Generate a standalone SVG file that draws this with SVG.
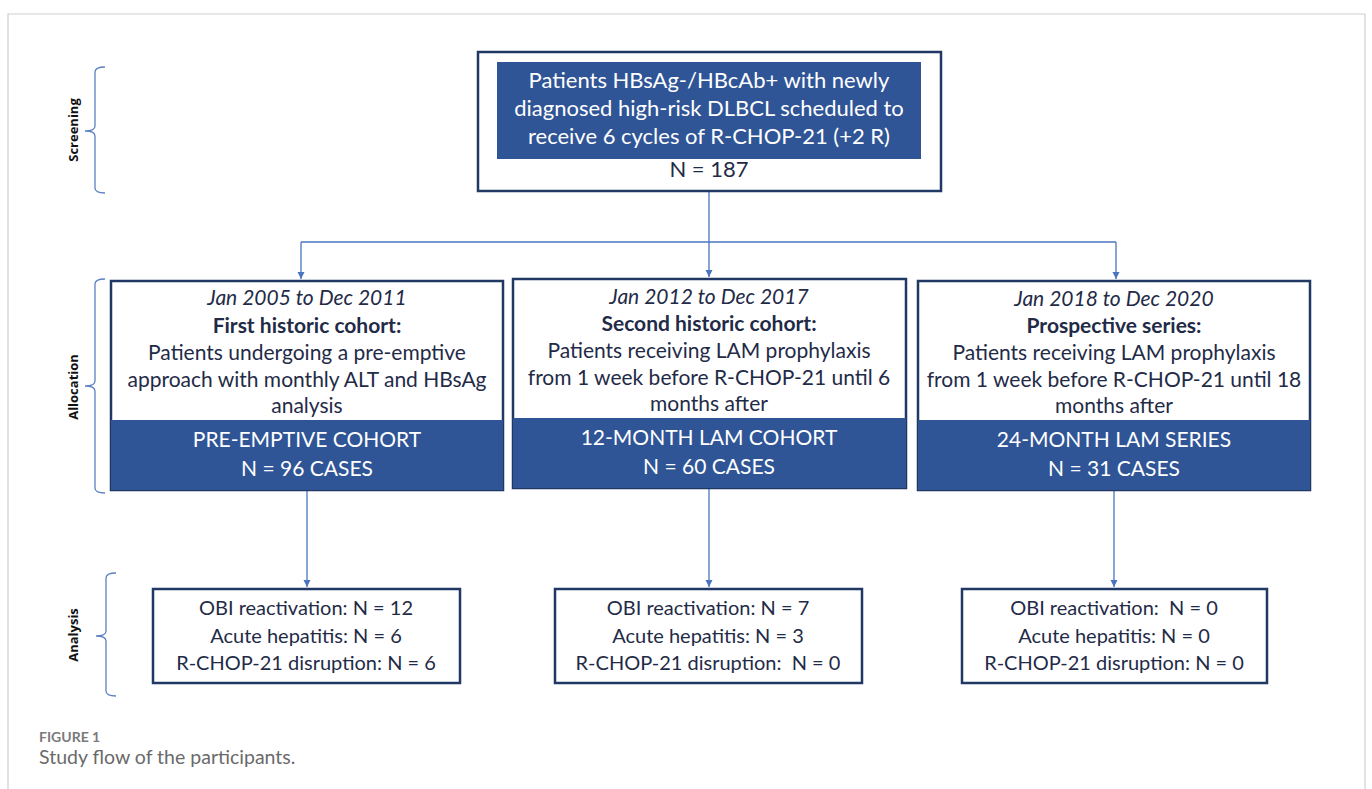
<svg xmlns="http://www.w3.org/2000/svg" width="1372" height="789" viewBox="0 0 1372 789">
<defs>
<style>
.t{font-family:Lato,"Liberation Sans",sans-serif;fill:#1f2b47;text-anchor:middle}
.m{font-size:21px}
.s{font-size:20px}
.w{fill:#ffffff}
.it{font-style:italic}
.b{font-weight:bold}
.frame{fill:none;stroke:#cfcfcf;stroke-width:1.2}
.box{fill:#ffffff;stroke:#203864;stroke-width:2.5}
.band{fill:#2f5597}
.con{fill:none;stroke:#4a74c0;stroke-width:1.3}
.br{fill:none;stroke:#5b80c2;stroke-width:1.3}
.lab{font-family:"Open Sans","Liberation Sans",sans-serif;font-weight:bold;font-size:13px;fill:#111;text-anchor:middle}
.cap1{font-family:Lato,"Liberation Sans",sans-serif;font-size:14px;fill:#7a7a7a;font-weight:bold}
.cap2{font-family:Lato,"Liberation Sans",sans-serif;font-size:19.5px;fill:#6a6a6a}
</style>
<marker id="ah" markerWidth="8" markerHeight="8" refX="7" refY="4" orient="auto" markerUnits="userSpaceOnUse">
<path d="M0,0.5 L7,4 L0,7.5 Z" fill="#4a74c0"/>
</marker>
</defs>
<rect width="1372" height="789" fill="#ffffff"/>
<path class="frame" d="M8,789 V14 H1365 V789"/>

<g id="brackets">
<path class="br" d="M105,67 Q95,67 95,72 V126 Q95,131 85,131 Q95,131 95,136 V188 Q95,193 105,193"/>
<text class="lab" transform="translate(78,130) rotate(-90)">Screening</text>
<path class="br" d="M105,279 Q95,279 95,284 V381 Q95,386 85,386 Q95,386 95,391 V488 Q95,493 105,493"/>
<text class="lab" transform="translate(78,387) rotate(-90)">Allocation</text>
<path class="br" d="M116,573 Q106,573 106,578 V631 Q106,636 96,636 Q106,636 106,641 V691 Q106,696 116,696"/>
<text class="lab" transform="translate(78,635) rotate(-90)">Analysis</text>
</g>

<g id="connectors">
<path class="con" d="M709,191 V242"/>
<path class="con" d="M301,242 H1116"/>
<path class="con" d="M301,242 V279" marker-end="url(#ah)"/>
<path class="con" d="M709,242 V277" marker-end="url(#ah)"/>
<path class="con" d="M1116,242 V279" marker-end="url(#ah)"/>
<path class="con" d="M307,490 V587" marker-end="url(#ah)"/>
<path class="con" d="M709,488 V587" marker-end="url(#ah)"/>
<path class="con" d="M1114,490 V587" marker-end="url(#ah)"/>
</g>

<g id="screening">
<rect class="box" x="478" y="52" width="463" height="139" stroke-width="3"/>
<rect class="band" x="497" y="62" width="424" height="97"/>
<text class="t w" font-size="22" x="709" y="88">Patients HBsAg-/HBcAb+ with newly</text>
<text class="t w" font-size="22" x="709" y="116">diagnosed high-risk DLBCL scheduled to</text>
<text class="t w" font-size="22" x="709" y="144">receive 6 cycles of R-CHOP-21 (+2 R)</text>
<text class="t" font-size="22" x="709" y="177">N = 187</text>
</g>

<g id="cohort1">
<rect class="box" x="111" y="281" width="392" height="209"/>
<rect class="band" x="111" y="420" width="392" height="70"/>
<text class="t m it" x="307" y="305">Jan 2005 to Dec 2011</text>
<text class="t m b" x="307" y="333">First historic cohort:</text>
<text class="t m" x="307" y="360">Patients undergoing a pre-emptive</text>
<text class="t m" x="307" y="387">approach with monthly ALT and HBsAg</text>
<text class="t m" x="307" y="413">analysis</text>
<text class="t m w" x="307" y="447">PRE-EMPTIVE COHORT</text>
<text class="t m w" x="307" y="476">N = 96 CASES</text>
</g>

<g id="cohort2">
<rect class="box" x="513" y="279" width="393" height="209"/>
<rect class="band" x="513" y="418" width="393" height="70"/>
<text class="t m it" x="709" y="304">Jan 2012 to Dec 2017</text>
<text class="t m b" x="709" y="331">Second historic cohort:</text>
<text class="t m" x="709" y="358">Patients receiving LAM prophylaxis</text>
<text class="t m" x="709" y="385">from 1 week before R-CHOP-21 until 6</text>
<text class="t m" x="709" y="411">months after</text>
<text class="t m w" x="709" y="445">12-MONTH LAM COHORT</text>
<text class="t m w" x="709" y="474">N = 60 CASES</text>
</g>

<g id="cohort3">
<rect class="box" x="918" y="281" width="392" height="209"/>
<rect class="band" x="918" y="420" width="392" height="70"/>
<text class="t m it" x="1114" y="306">Jan 2018 to Dec 2020</text>
<text class="t m b" x="1114" y="333">Prospective series:</text>
<text class="t m" x="1114" y="360">Patients receiving LAM prophylaxis</text>
<text class="t m" x="1114" y="387">from 1 week before R-CHOP-21 until 18</text>
<text class="t m" x="1114" y="413">months after</text>
<text class="t m w" x="1114" y="447">24-MONTH LAM SERIES</text>
<text class="t m w" x="1114" y="476">N = 31 CASES</text>
</g>

<g id="analysis1">
<rect class="box" x="153" y="589" width="307" height="94"/>
<text class="t s" x="306" y="615">OBI reactivation: N = 12</text>
<text class="t s" x="306" y="643">Acute hepatitis: N = 6</text>
<text class="t s" x="306" y="670">R-CHOP-21 disruption: N = 6</text>
</g>

<g id="analysis2">
<rect class="box" x="555" y="589" width="307" height="94"/>
<text class="t s" x="708" y="615">OBI reactivation: N = 7</text>
<text class="t s" x="708" y="643">Acute hepatitis: N = 3</text>
<text class="t s" x="708" y="670" xml:space="preserve">R-CHOP-21 disruption:  N = 0</text>
</g>

<g id="analysis3">
<rect class="box" x="962" y="589" width="305" height="94"/>
<text class="t s" x="1114" y="615" xml:space="preserve">OBI reactivation:  N = 0</text>
<text class="t s" x="1114" y="643">Acute hepatitis: N = 0</text>
<text class="t s" x="1114" y="670">R-CHOP-21 disruption: N = 0</text>
</g>

<g id="caption">
<text class="cap1" x="39" y="742">FIGURE 1</text>
<text class="cap2" x="39" y="764">Study flow of the participants.</text>
</g>
</svg>
